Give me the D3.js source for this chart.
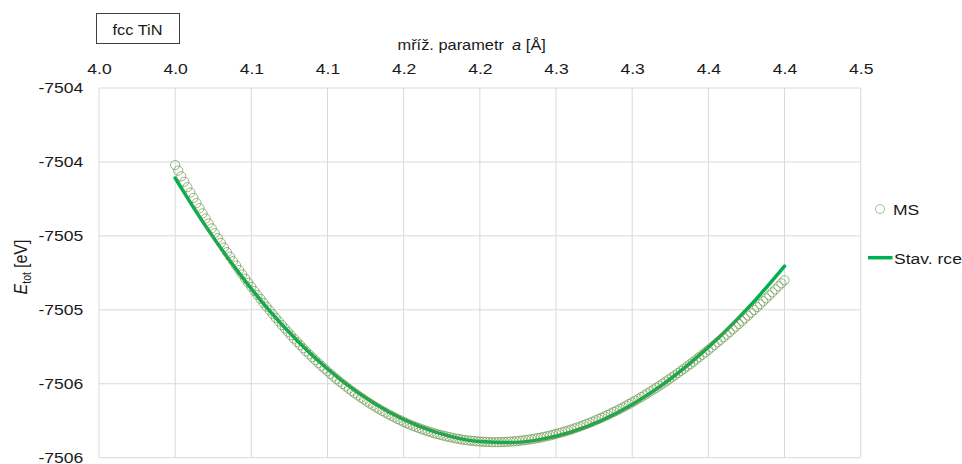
<!DOCTYPE html>
<html>
<head>
<meta charset="utf-8">
<script src="https://cdn.jsdelivr.net/npm/d3@7/dist/d3.min.js"></script>
<style>
  html, body { margin: 0; padding: 0; background: #fff; }
  svg { display: block; }
  text { font-family: "Liberation Sans", Arial, sans-serif; fill: #1a1a1a; }
</style>
</head>
<body>
<svg id="chart" width="962" height="464"></svg>
<script>
// ---- data ----
const xTicks = [3.95, 4.00, 4.05, 4.10, 4.15, 4.20, 4.25, 4.30, 4.35, 4.40, 4.45];
const xTickLabels = ["4.0", "4.0", "4.1", "4.1", "4.2", "4.2", "4.3", "4.3", "4.4", "4.4", "4.5"];
const yTicks = [-7503.5, -7504.0, -7504.5, -7505.0, -7505.5, -7506.0];
const yTickLabels = ["-7504", "-7504", "-7505", "-7505", "-7506", "-7506"];

// MS series: lattice parameter a [Å]
const msA = [
4.000,4.002,4.004,4.006,4.008,4.010,4.012,4.014,4.016,4.018,
4.020,4.022,4.024,4.026,4.028,4.030,4.032,4.034,4.036,4.038,
4.040,4.042,4.044,4.046,4.048,4.050,4.052,4.054,4.056,4.058,
4.060,4.062,4.064,4.066,4.068,4.070,4.072,4.074,4.076,4.078,
4.080,4.082,4.084,4.086,4.088,4.090,4.092,4.094,4.096,4.098,
4.100,4.102,4.104,4.106,4.108,4.110,4.112,4.114,4.116,4.118,
4.120,4.122,4.124,4.126,4.128,4.130,4.132,4.134,4.136,4.138,
4.140,4.142,4.144,4.146,4.148,4.150,4.152,4.154,4.156,4.158,
4.160,4.162,4.164,4.166,4.168,4.170,4.172,4.174,4.176,4.178,
4.180,4.182,4.184,4.186,4.188,4.190,4.192,4.194,4.196,4.198,
4.200,4.202,4.204,4.206,4.208,4.210,4.212,4.214,4.216,4.218,
4.220,4.222,4.224,4.226,4.228,4.230,4.232,4.234,4.236,4.238,
4.240,4.242,4.244,4.246,4.248,4.250,4.252,4.254,4.256,4.258,
4.260,4.262,4.264,4.266,4.268,4.270,4.272,4.274,4.276,4.278,
4.280,4.282,4.284,4.286,4.288,4.290,4.292,4.294,4.296,4.298,
4.300,4.302,4.304,4.306,4.308,4.310,4.312,4.314,4.316,4.318,
4.320,4.322,4.324,4.326,4.328,4.330,4.332,4.334,4.336,4.338,
4.340,4.342,4.344,4.346,4.348,4.350,4.352,4.354,4.356,4.358,
4.360,4.362,4.364,4.366,4.368,4.370,4.372,4.374,4.376,4.378,
4.380,4.382,4.384,4.386,4.388,4.390,4.392,4.394,4.396,4.398,
4.400];
// MS series: total energy [eV]
const msE = [
-7504.021,-7504.059,-7504.097,-7504.134,-7504.171,-7504.207,-7504.243,-7504.278,-7504.313,-7504.348,
-7504.382,-7504.416,-7504.449,-7504.482,-7504.515,-7504.547,-7504.579,-7504.610,-7504.641,-7504.671,
-7504.701,-7504.731,-7504.760,-7504.789,-7504.817,-7504.845,-7504.873,-7504.900,-7504.926,-7504.953,
-7504.979,-7505.004,-7505.029,-7505.054,-7505.079,-7505.103,-7505.126,-7505.149,-7505.172,-7505.195,
-7505.217,-7505.238,-7505.260,-7505.281,-7505.301,-7505.321,-7505.341,-7505.360,-7505.379,-7505.398,
-7505.416,-7505.434,-7505.452,-7505.469,-7505.486,-7505.502,-7505.518,-7505.534,-7505.550,-7505.565,
-7505.579,-7505.594,-7505.607,-7505.621,-7505.634,-7505.647,-7505.660,-7505.672,-7505.684,-7505.695,
-7505.707,-7505.717,-7505.728,-7505.738,-7505.748,-7505.758,-7505.767,-7505.776,-7505.784,-7505.792,
-7505.800,-7505.808,-7505.815,-7505.822,-7505.828,-7505.835,-7505.840,-7505.846,-7505.851,-7505.856,
-7505.861,-7505.865,-7505.870,-7505.873,-7505.877,-7505.880,-7505.883,-7505.885,-7505.887,-7505.889,
-7505.891,-7505.892,-7505.893,-7505.894,-7505.895,-7505.895,-7505.895,-7505.894,-7505.894,-7505.893,
-7505.891,-7505.890,-7505.888,-7505.886,-7505.883,-7505.881,-7505.878,-7505.875,-7505.871,-7505.867,
-7505.864,-7505.859,-7505.855,-7505.850,-7505.845,-7505.839,-7505.834,-7505.828,-7505.822,-7505.816,
-7505.809,-7505.802,-7505.795,-7505.788,-7505.780,-7505.772,-7505.764,-7505.756,-7505.747,-7505.738,
-7505.729,-7505.720,-7505.710,-7505.700,-7505.690,-7505.680,-7505.670,-7505.659,-7505.648,-7505.637,
-7505.625,-7505.614,-7505.602,-7505.590,-7505.578,-7505.565,-7505.552,-7505.539,-7505.526,-7505.513,
-7505.499,-7505.485,-7505.471,-7505.457,-7505.443,-7505.428,-7505.413,-7505.398,-7505.383,-7505.368,
-7505.352,-7505.336,-7505.320,-7505.304,-7505.288,-7505.271,-7505.255,-7505.238,-7505.220,-7505.203,
-7505.186,-7505.168,-7505.150,-7505.132,-7505.114,-7505.096,-7505.077,-7505.058,-7505.039,-7505.020,
-7505.001,-7504.982,-7504.962,-7504.942,-7504.922,-7504.902,-7504.882,-7504.862,-7504.841,-7504.821,
-7504.800];

// Equation-of-state fit ("Stav. rce")
const fitA = [4.00,4.02,4.04,4.06,4.08,4.10,4.12,4.14,4.16,4.18,4.20,4.22,4.24,4.26,4.28,4.30,4.32,4.34,4.36,4.38,4.40];
const fitE = [-7504.109,-7504.434,-7504.725,-7504.983,-7505.207,-7505.400,-7505.560,-7505.689,-7505.787,-7505.854,
              -7505.891,-7505.898,-7505.876,-7505.826,-7505.747,-7505.640,-7505.506,-7505.344,-7505.157,-7504.943,-7504.704];

const seriesNames = ["MS", "Stav. rce"];

// ---- layout ----
const svg = d3.select("#chart");
const SX = 1.17; // horizontal glyph stretch seen in the reference
const plot = { left: 99, right: 860.7, top: 88, bottom: 457.7 };

const x = d3.scaleLinear().domain([3.95, 4.45]).range([plot.left, plot.right]);
const y = d3.scaleLinear().domain([-7506.0, -7503.5]).range([plot.bottom, plot.top]);

svg.append("rect").attr("width", 962).attr("height", 464).attr("fill", "#fff");

// gridlines
const grid = svg.append("g").attr("stroke", "#d9d9d9").attr("stroke-width", 1);
grid.selectAll("line.v").data(xTicks).join("line").attr("class", "v")
  .attr("x1", d => x(d)).attr("x2", d => x(d))
  .attr("y1", plot.top).attr("y2", plot.bottom);
grid.selectAll("line.h").data(yTicks).join("line").attr("class", "h")
  .attr("x1", plot.left).attr("x2", plot.right)
  .attr("y1", d => y(d)).attr("y2", d => y(d));

// top x axis
const xAxis = svg.append("g").attr("transform", "translate(0,74)")
  .call(d3.axisTop(x).tickValues(xTicks).tickFormat((d, i) => xTickLabels[i]).tickSize(0).tickPadding(0));
xAxis.select(".domain").remove();
xAxis.selectAll("text")
  .attr("y", 0).attr("dy", 0)
  .attr("transform", `scale(${SX},1)`)
  .style("font-size", "15px").style("fill", "#1a1a1a")
  .style("font-family", '"Liberation Sans", Arial, sans-serif');

// left y axis
const yAxis = svg.append("g").attr("transform", `translate(${plot.left},0)`)
  .call(d3.axisLeft(y).tickValues(yTicks).tickFormat((d, i) => yTickLabels[i]).tickSize(0).tickPadding(0));
yAxis.select(".domain").remove();
yAxis.selectAll("text")
  .attr("x", -15.7 / SX).attr("dy", "0.3em")
  .attr("transform", `scale(${SX},1)`)
  .style("font-size", "15px").style("fill", "#1a1a1a")
  .style("font-family", '"Liberation Sans", Arial, sans-serif');

// fit line
const line = d3.line().x(d => x(d[0])).y(d => y(d[1])).curve(d3.curveMonotoneX);
svg.append("path")
  .datum(fitA.map((a, i) => [a, fitE[i]]))
  .attr("d", line)
  .attr("fill", "none")
  .attr("stroke", "#00b050")
  .attr("stroke-width", 3.5)
  .attr("stroke-linecap", "round");

// MS markers
const circleStroke = "#6a934a";
svg.append("g").selectAll("circle")
  .data(msA.map((a, i) => [a, msE[i]]))
  .join("circle")
  .attr("cx", d => x(d[0])).attr("cy", d => y(d[1]))
  .attr("r", 4.6)
  .attr("fill", "none")
  .attr("stroke", circleStroke)
  .attr("stroke-opacity", 0.8)
  .attr("stroke-width", 0.85);

// title box
svg.append("rect").attr("x", 96.5).attr("y", 13.5).attr("width", 83).attr("height", 30)
  .attr("fill", "#fff").attr("stroke", "#404040").attr("stroke-width", 1);
svg.append("text").attr("transform", `translate(137.5,35) scale(${SX},1)`)
  .attr("text-anchor", "middle").style("font-size", "14px").text("fcc TiN");

// x axis title
const xt = svg.append("text").attr("transform", `translate(471.7,50) scale(${SX},1)`)
  .attr("text-anchor", "middle").style("font-size", "14px");
xt.append("tspan").text("mříž. parametr");
xt.append("tspan").attr("dx", 7).style("font-style", "italic").text("a");
xt.append("tspan").attr("dx", 4).text("[Å]");

// y axis title
const yt = svg.append("text").attr("transform", `translate(27,267) scale(${SX},1) rotate(-90)`)
  .attr("text-anchor", "middle").style("font-size", "16px");
yt.append("tspan").style("font-style", "italic").text("E");
yt.append("tspan").attr("dy", 3).style("font-size", "10.5px").text("tot");
yt.append("tspan").attr("dy", -3).attr("dx", 4).text("[eV]");

// legend
const lg = svg.append("g");
lg.append("circle").attr("cx", 880).attr("cy", 209).attr("r", 4.5)
  .attr("fill", "none").attr("stroke", "#a9bd98").attr("stroke-width", 1);
lg.append("text").attr("transform", `translate(893,214.5) scale(${SX},1)`)
  .style("font-size", "15px").text(seriesNames[0]);
lg.append("line").attr("x1", 868).attr("x2", 892.5).attr("y1", 257.7).attr("y2", 257.7)
  .attr("stroke", "#00b050").attr("stroke-width", 3.5);
lg.append("text").attr("transform", `translate(894,263.5) scale(${SX},1)`)
  .style("font-size", "15px").text(seriesNames[1]);
</script>
</body>
</html>
